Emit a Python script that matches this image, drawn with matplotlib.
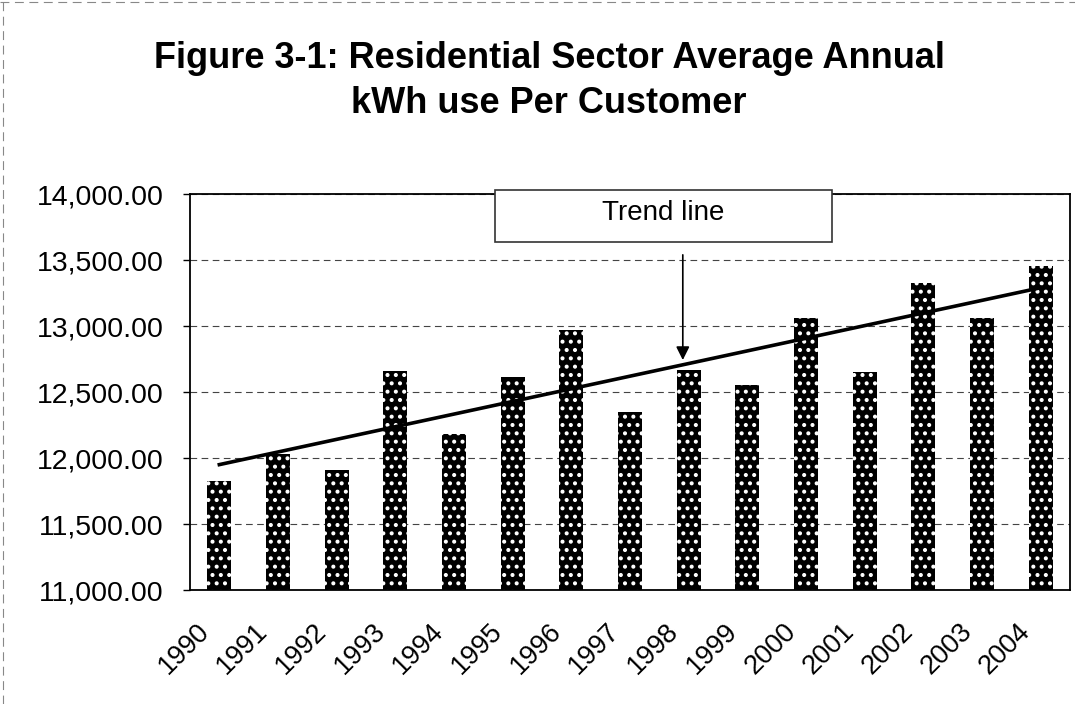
import matplotlib
matplotlib.use("Agg")
import matplotlib.pyplot as plt
import matplotlib.hatch as mhatch
import matplotlib.transforms as mtrans
from matplotlib.lines import Line2D
from matplotlib.patches import Rectangle
import numpy as np

# white dots for the bar pattern
mhatch.SmallFilledCircles.size = 0.16

plt.rcParams['font.family'] = ['Liberation Sans', 'DejaVu Sans']

years = ['1990', '1991', '1992', '1993', '1994', '1995', '1996', '1997',
         '1998', '1999', '2000', '2001', '2002', '2003', '2004']
kwh = [11828, 12030, 11909, 12656, 12182, 12613, 12970, 12349,
       12666, 12554, 13058, 12648, 13322, 13058, 13456]

title_lines = ["Figure 3-1: Residential Sector Average Annual",
               "kWh use Per Customer"]

x = np.arange(len(years))

fig = plt.figure(figsize=(10.75, 7.04), dpi=100)
ax = fig.add_axes([190/1075, 1 - 590/704, 880/1075, 396/704])

ax.bar(x, kwh, width=0.41, color='black', edgecolor='white',
       linewidth=0, hatch='..', zorder=2)

# linear trend line
coef = np.polyfit(x, kwh, 1)
ax.plot(x, np.polyval(coef, x), color='black', lw=2.6, zorder=3)

ax.set_xlim(-0.5, len(years) - 0.5)
ax.set_ylim(11000, 14000)
yt = np.arange(11000, 14001, 500)
ax.set_yticks(yt)
ax.set_yticklabels(['{:,.2f}'.format(v) for v in yt], fontsize=20.5)
ax.set_xticks(x)
ax.set_xticklabels(years, rotation=45, ha='right', va='center',
                   rotation_mode='anchor', fontsize=19.5)
ax.tick_params(axis='x', length=0, pad=27)
ax.tick_params(axis='y', length=5, width=1, pad=14)
shift = mtrans.ScaledTranslation(-14/100, 0, fig.dpi_scale_trans)
for lab in ax.get_xticklabels():
    lab.set_transform(lab.get_transform() + shift)

ax.yaxis.grid(True, color='#444444', lw=0.8, linestyle=(0, (6, 4)), zorder=0)
ax.set_axisbelow(True)
for s in ax.spines.values():
    s.set_linewidth(1.3)
    s.set_color('black')

# annotation box and arrow
ax.annotate('', xy=(7.9, np.polyval(coef, 7.9) + 15), xytext=(7.9, 13560),
            arrowprops=dict(arrowstyle='-|>', color='black', lw=1.2,
                            mutation_scale=20), zorder=4)
ax.add_patch(Rectangle((0.347, 0.879), 0.383, 0.131, transform=ax.transAxes,
                       fc='white', ec='#333333', lw=1.2, zorder=5,
                       clip_on=False))
ax.text(0.5375, 0.952, 'Trend line', transform=ax.transAxes, fontsize=20,
        ha='center', va='center', zorder=6)

fig.text(0.5107, 1 - 68/704, title_lines[0], ha='center', va='baseline',
         fontsize=26, fontweight='bold')
fig.text(0.5107, 1 - 113/704, title_lines[1], ha='center', va='baseline',
         fontsize=26, fontweight='bold')

# faint scan border of the chart
fig.add_artist(Line2D([0, 1], [0.997, 0.997], color='#888888', lw=0.8,
                      linestyle=(0, (8, 5))))
fig.add_artist(Line2D([0.003, 0.003], [0, 1], color='#888888', lw=0.8,
                      linestyle=(0, (8, 5))))

fig.savefig('out.png', dpi=100)
